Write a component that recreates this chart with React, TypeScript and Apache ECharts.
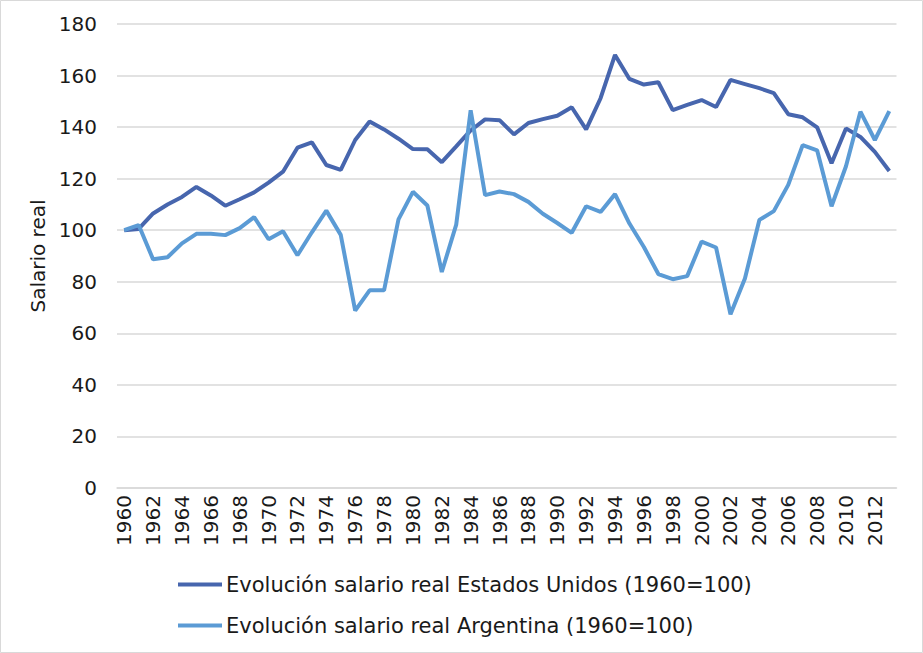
import React, { useEffect, useRef } from "react";
import * as echarts from "echarts";

const years: string[] = [
  "1960","1961","1962","1963","1964","1965","1966","1967","1968","1969",
  "1970","1971","1972","1973","1974","1975","1976","1977","1978","1979",
  "1980","1981","1982","1983","1984","1985","1986","1987","1988","1989",
  "1990","1991","1992","1993","1994","1995","1996","1997","1998","1999",
  "2000","2001","2002","2003","2004","2005","2006","2007","2008","2009",
  "2010","2011","2012","2013",
];

const usSeries: number[] = [
  100, 100.5, 106.5, 110, 112.9, 116.8, 113.5, 109.5, 112, 114.7,
  118.5, 122.7, 132, 134.1, 125.3, 123.4, 135, 142.2, 139.1, 135.5,
  131.5, 131.4, 126.4, 132.5, 138.7, 143, 142.7, 137.2, 141.6, 143.1,
  144.4, 147.7, 139.1, 151.2, 168, 158.7, 156.5, 157.4, 146.6, 148.6,
  150.5, 147.8, 158.3, 156.7, 155.1, 153.2, 145, 143.8, 139.9, 126,
  139.5, 136.2, 130.4, 123,
];

const argSeries: number[] = [
  100, 102, 88.7, 89.5, 94.9, 98.6, 98.6, 98.1, 100.8, 105.1,
  96.5, 99.6, 90.3, 99.2, 107.6, 98.2, 68.8, 76.7, 76.7, 104.2,
  114.9, 109.6, 83.8, 102.2, 146.5, 113.6, 115, 114, 111, 106.4,
  102.8, 99, 109.3, 107.1, 114, 102.6, 93.5, 83, 81, 82.2,
  95.6, 93.3, 67.4, 81.3, 104, 107.4, 117.6, 133, 131, 109.3,
  124.8, 146, 135, 146.2,
];

const seriesNames: string[] = [
  "Evolución salario real Estados Unidos (1960=100)",
  "Evolución salario real Argentina (1960=100)",
];

const FONT = "DejaVu Sans";

export default function App() {
  const ref = useRef<HTMLDivElement>(null);
  useEffect(() => {
    if (!ref.current) return;
    const chart = echarts.init(ref.current, undefined, { renderer: "svg" });
    chart.setOption({
      animation: false,
      textStyle: { fontFamily: FONT },
      graphic: [
        {
          type: "rect",
          shape: { x: 0.5, y: 0.5, width: 922, height: 652 },
          style: { fill: "none", stroke: "#d9d9d9", lineWidth: 1 },
          silent: true,
        },
      ],
      grid: { left: 117, right: 26.5, top: 24, bottom: 165, containLabel: false },
      legend: {
        orient: "vertical",
        left: 178,
        top: 574,
        padding: 0,
        icon: "rect",
        itemWidth: 44,
        itemHeight: 4,
        itemGap: 20,
        textStyle: { fontFamily: FONT, fontSize: 21, color: "#1a1a1a", padding: [0, 0, 0, -1] },
        data: seriesNames,
      },
      xAxis: {
        type: "category",
        data: years,
        boundaryGap: true,
        axisLine: { show: true, lineStyle: { color: "#d9d9d9", width: 1.5 } },
        axisTick: { show: false },
        axisLabel: {
          interval: 1,
          rotate: 90,
          margin: 7,
          fontFamily: FONT,
          fontSize: 20,
          color: "#1a1a1a",
        },
      },
      yAxis: {
        type: "value",
        min: 0,
        max: 180,
        interval: 20,
        name: "Salario real",
        nameLocation: "middle",
        nameGap: 66,
        nameTextStyle: { fontFamily: FONT, fontSize: 20, color: "#1a1a1a" },
        axisLine: { show: false },
        axisTick: { show: false },
        splitLine: { lineStyle: { color: "#d9d9d9", width: 1.5 } },
        axisLabel: { margin: 20, fontFamily: FONT, fontSize: 20, color: "#1a1a1a" },
      },
      series: [
        {
          name: seriesNames[0],
          type: "line",
          data: usSeries,
          symbol: "none",
          lineStyle: { color: "#4766ae", width: 4 },
          itemStyle: { color: "#4766ae" },
        },
        {
          name: seriesNames[1],
          type: "line",
          data: argSeries,
          symbol: "none",
          lineStyle: { color: "#5b9bd5", width: 4 },
          itemStyle: { color: "#5b9bd5" },
        },
      ],
    });
    return () => chart.dispose();
  }, []);
  return (
    <div
      ref={ref}
      style={{ position: "absolute", left: 0, top: 0, width: 923, height: 653, background: "#fff" }}
    />
  );
}
